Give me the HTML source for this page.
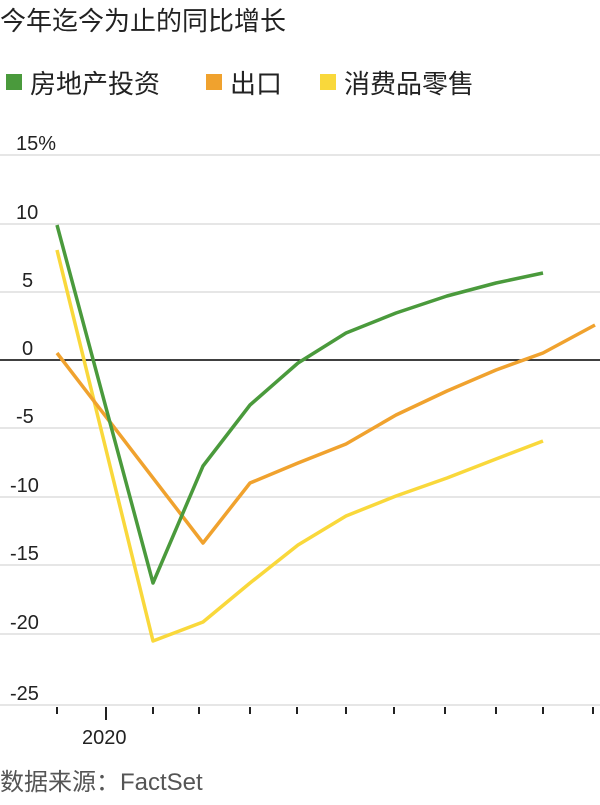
<!DOCTYPE html>
<html><head><meta charset="utf-8"><style>
body{margin:0;background:#fff;width:600px;height:800px;overflow:hidden;font-family:"Liberation Sans","Noto Sans CJK SC",sans-serif}
</style></head><body>
<svg width="600" height="800" xmlns="http://www.w3.org/2000/svg" font-family="Liberation Sans, Noto Sans CJK SC, sans-serif">
<text x="0" y="30" font-size="26" fill="#222">今年迄今为止的同比增长</text>
<rect x="6" y="74" width="16" height="16" fill="#4a9a3c"/>
<text x="30" y="93" font-size="26" fill="#222">房地产投资</text>
<rect x="206" y="74" width="16" height="16" fill="#f0a22e"/>
<text x="230" y="93" font-size="26" fill="#222">出口</text>
<rect x="320" y="74" width="16" height="16" fill="#f9d83b"/>
<text x="344" y="93" font-size="26" fill="#222">消费品零售</text>
<g stroke="#ddd" stroke-width="1.5">
<line x1="0" x2="600" y1="155" y2="155"/><line x1="0" x2="600" y1="224" y2="224"/>
<line x1="0" x2="600" y1="292" y2="292"/><line x1="0" x2="600" y1="428" y2="428"/>
<line x1="0" x2="600" y1="497" y2="497"/><line x1="0" x2="600" y1="565" y2="565"/>
<line x1="0" x2="600" y1="634" y2="634"/><line x1="0" x2="600" y1="705" y2="705"/>
</g>
<line x1="0" x2="600" y1="360" y2="360" stroke="#000" stroke-width="1.5"/>
<g font-size="20" fill="#222">
<text x="16" y="150">15%</text><text x="16" y="219">10</text><text x="22" y="287">5</text>
<text x="22" y="355">0</text><text x="16" y="423">-5</text><text x="10" y="492">-10</text>
<text x="10" y="560">-15</text><text x="10" y="629">-20</text><text x="10" y="700">-25</text>
<text x="82" y="744">2020</text>
</g>
<g stroke="#222" stroke-width="2">
<line x1="57" x2="57" y1="707" y2="714"/><line x1="106" x2="106" y1="707" y2="720"/>
<line x1="153" x2="153" y1="707" y2="714"/><line x1="199" x2="199" y1="707" y2="714"/>
<line x1="250" x2="250" y1="707" y2="714"/><line x1="297" x2="297" y1="707" y2="714"/>
<line x1="346" x2="346" y1="707" y2="714"/><line x1="394" x2="394" y1="707" y2="714"/>
<line x1="445" x2="445" y1="707" y2="714"/><line x1="496" x2="496" y1="707" y2="714"/>
<line x1="543" x2="543" y1="707" y2="714"/><line x1="593" x2="593" y1="707" y2="714"/>
</g>
<g fill="none" stroke-width="3.5" stroke-linejoin="round">
<polyline stroke="#f9d83b" points="57,250 153,641 203,622 250,583 298,545 346,516 396,496 447,478 496,459 543,441"/>
<polyline stroke="#f0a22e" points="57,353 203,543 250,483 298,463 346,444 396,415 447,391 496,370 543,353 595,325"/>
<polyline stroke="#4a9a3c" points="57,225 153,583 203,466 250,405 298,363 346,333 396,313 447,296 496,283 543,273"/>
</g>
<text x="0" y="790" font-size="24" fill="#555">数据来源：FactSet</text>
</svg>
</body></html>
